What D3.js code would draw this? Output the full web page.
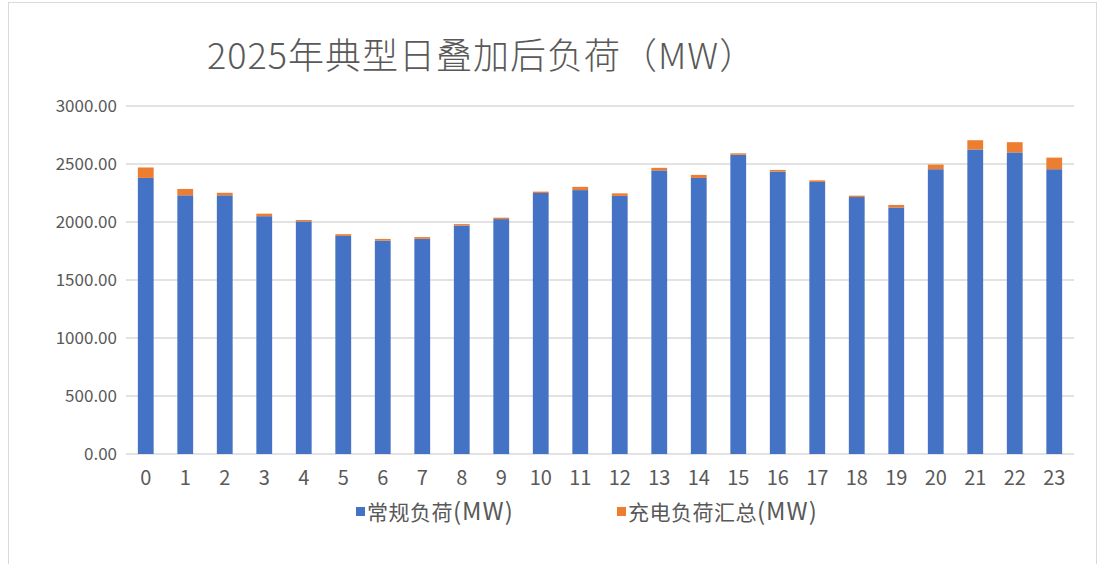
<!DOCTYPE html>
<html>
<head>
<meta charset="utf-8">
<script src="https://cdn.jsdelivr.net/npm/d3@7"></script>
<style>
  html, body { margin: 0; padding: 0; background: #fff; }
  svg { display: block; }
  text { font-family: "Noto Sans CJK SC", "Noto Sans", sans-serif; fill: #595959; }
</style>
</head>
<body>
<svg id="chart" width="1099" height="564"></svg>
<script>
// Hours of the typical day
const hours = d3.range(24).map(String);
// Regular load (MW)
const baseLoad = [2380, 2230, 2230, 2050, 2005, 1880, 1840, 1855, 1970, 2025, 2250, 2275,
                  2225, 2445, 2380, 2580, 2435, 2345, 2215, 2125, 2455, 2625, 2600, 2455];
// Aggregated EV charging load (MW)
const chargeLoad = [90, 55, 22, 22, 12, 15, 14, 15, 12, 12, 12, 28,
                    22, 22, 26, 12, 14, 14, 12, 22, 40, 80, 88, 100];
const seriesNames = ["常规负荷", "充电负荷汇总"];
const seriesUnit = "(MW)";
const seriesColors = ["#4472C4", "#ED7D31"];
const yTicks = [0, 500, 1000, 1500, 2000, 2500, 3000];
const title = "2025年典型日叠加后负荷（MW）";

const svg = d3.select("#chart");
const W = 1099, H = 564;
const m = { left: 126, right: 1074, top: 106, bottom: 454 };

// outer chart frame
svg.append("rect")
  .attr("x", 8.5).attr("y", 2.5).attr("width", W - 11).attr("height", H + 10)
  .attr("fill", "#fff").attr("stroke", "#d9d9d9").attr("stroke-width", 1);

const x = d3.scaleBand().domain(hours).range([m.left, m.right]).paddingInner(0.6).paddingOuter(0.3);
const y = d3.scaleLinear().domain([0, 3000]).range([m.bottom, m.top]);

// gridlines
svg.append("g").selectAll("line").data(yTicks).join("line")
  .attr("x1", m.left).attr("x2", m.right)
  .attr("y1", d => y(d)).attr("y2", d => y(d))
  .attr("stroke", "#d9d9d9").attr("stroke-width", 1.3);

// y axis labels
const yAxis = d3.axisLeft(y).tickValues(yTicks).tickFormat(d3.format(".2f")).tickSize(0).tickPadding(9);
svg.append("g").attr("transform", `translate(${m.left},0)`).call(yAxis)
  .call(g => g.select(".domain").remove())
  .selectAll("text").style("font-size", "17px").attr("fill", "#595959")
  .style("font-family", "'Noto Sans CJK SC', sans-serif");

// stacked bars
const rows = hours.map((h, i) => ({ hour: h, base: baseLoad[i], charge: chargeLoad[i] }));
const stack = d3.stack().keys(["base", "charge"])(rows);
svg.append("g").selectAll("g").data(stack).join("g")
  .attr("fill", (d, i) => seriesColors[i])
  .selectAll("rect").data(d => d).join("rect")
  .attr("x", d => x(d.data.hour))
  .attr("width", x.bandwidth())
  .attr("y", d => y(d[1]))
  .attr("height", d => y(d[0]) - y(d[1]));

// x axis labels
const xAxis = d3.axisBottom(x).tickSize(0).tickPadding(17);
svg.append("g").attr("transform", `translate(0,${m.bottom})`).call(xAxis)
  .call(g => g.select(".domain").remove())
  .selectAll("text").style("font-size", "20px").attr("fill", "#595959")
  .style("font-family", "'Noto Sans CJK SC', sans-serif");

// title
svg.append("text")
  .attr("x", 207).attr("y", 69)
  .style("font-size", "36px").style("font-weight", 300).style("letter-spacing", "1px")
  .text(title);

// legend
const legendX = [356, 617];
const legend = svg.append("g").selectAll("g").data(seriesNames).join("g")
  .attr("transform", (d, i) => `translate(${legendX[i]},512)`);
legend.append("rect").attr("x", 0).attr("y", -5).attr("width", 9).attr("height", 9)
  .attr("fill", (d, i) => seriesColors[i]);
const lt = legend.append("text").attr("x", 11).attr("y", 8).style("font-size", "21px");
lt.append("tspan").style("letter-spacing", "0.5px").text(d => d);
lt.append("tspan").style("font-size", "24px").style("letter-spacing", "1px").text(seriesUnit);
</script>
</body>
</html>
